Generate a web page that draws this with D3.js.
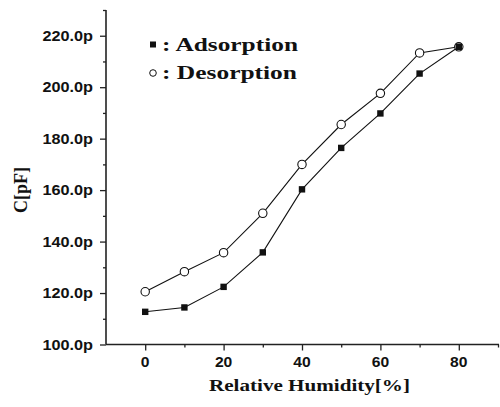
<!DOCTYPE html>
<html>
<head>
<meta charset="utf-8">
<script src="https://cdn.jsdelivr.net/npm/d3@7"></script>
<style>
  body { margin: 0; background: #fff; }
  svg { display: block; }
</style>
</head>
<body>
<svg id="chart" width="500" height="407"></svg>
<script>
'use strict'

// relative humidity [%]
const humidity = [0, 10, 20, 30, 40, 50, 60, 70, 80]
// capacitance [pF]
const adsorption = [112.7, 114.4, 122.4, 135.8, 160.3, 176.4, 189.8, 205.3, 215.7]
const desorption = [120.5, 128.3, 135.7, 151.0, 170.0, 185.5, 197.6, 213.3, 215.7]

const xTicks = [0, 20, 40, 60, 80]
const yTicks = [100, 120, 140, 160, 180, 200, 220]
const legendLabels = [': Adsorption', ': Desorption']

function chart(){
	let svg = d3.select('#chart')

	let x = d3.scaleLinear().domain([-10, 90]).range([106, 498])
	let y = d3.scaleLinear().domain([100, 230]).range([344.5, 10])

	const sans = '"Liberation Sans", Arial, sans-serif'
	const serif = '"Liberation Serif", "Times New Roman", serif'

	// axes
	let gx = svg.append('g').attr('transform', `translate(0,${y(100)})`)
	gx.call(d3.axisBottom(x).tickValues(d3.range(-10, 91, 10)).tickSize(3).tickFormat(''))
	gx.call(g => g.selectAll('.tick').filter(d => xTicks.includes(d)).select('line').attr('y2', 6))
	gx.selectAll('.tick').filter(d => d === -10).remove()
	gx.select('.domain').attr('d', `M${x(-10)},0H${x(90) + 1}`)

	let gy = svg.append('g').attr('transform', `translate(${x(-10)},0)`)
	gy.call(d3.axisLeft(y).tickValues(d3.range(100, 231, 10)).tickSize(3).tickFormat(''))
	gy.call(g => g.selectAll('.tick').filter(d => yTicks.includes(d)).select('line').attr('x2', -6))
	gy.select('.domain').attr('d', `M0,${y(230)}V${y(100)}`)

	svg.selectAll('.domain').attr('stroke', '#222').attr('stroke-width', 1.6)
	svg.selectAll('.tick line').attr('stroke', '#222').attr('stroke-width', 1.3)

	// tick labels (slightly stretched, like the scanned figure)
	svg.append('g').selectAll('text').data(xTicks).join('text')
		.attr('transform', d => `translate(${x(d)},367) scale(1.12,1)`)
		.attr('text-anchor', 'middle')
		.attr('font-family', sans).attr('font-weight', 'bold').attr('font-size', 14)
		.attr('fill', '#111')
		.text(d => d)

	svg.append('g').selectAll('text').data(yTicks).join('text')
		.attr('transform', d => `translate(93,${y(d) + 5}) scale(1.16,1)`)
		.attr('text-anchor', 'end')
		.attr('font-family', sans).attr('font-weight', 'bold').attr('font-size', 14)
		.attr('fill', '#111')
		.text(d => d.toFixed(1) + 'p')

	// axis titles
	svg.append('text')
		.attr('x', 209).attr('y', 391)
		.attr('textLength', 201).attr('lengthAdjust', 'spacingAndGlyphs')
		.attr('font-family', serif).attr('font-weight', 'bold').attr('font-size', 17)
		.attr('fill', '#111')
		.text('Relative Humidity[%]')

	svg.append('text')
		.attr('transform', 'translate(27,190) rotate(-90)')
		.attr('text-anchor', 'middle')
		.attr('font-family', serif).attr('font-weight', 'bold').attr('font-size', 18)
		.attr('fill', '#111')
		.text('C[pF]')

	// lines
	let line = d3.line().x((d, i) => x(humidity[i])).y(d => y(d))
	svg.append('path').datum(adsorption).attr('d', line)
		.attr('fill', 'none').attr('stroke', '#111').attr('stroke-width', 1.1)
	svg.append('path').datum(desorption).attr('d', line)
		.attr('fill', 'none').attr('stroke', '#111').attr('stroke-width', 1.1)

	// markers
	svg.append('g').selectAll('circle').data(desorption).join('circle')
		.attr('cx', (d, i) => x(humidity[i])).attr('cy', d => y(d)).attr('r', 4.2)
		.attr('fill', '#fff').attr('stroke', '#111').attr('stroke-width', 1.1)
	svg.append('g').selectAll('rect').data(adsorption).join('rect')
		.attr('x', (d, i) => x(humidity[i]) - 3.2).attr('y', d => y(d) - 3.2)
		.attr('width', 6.4).attr('height', 6.4)
		.attr('fill', '#111')

	// legend
	let leg = svg.append('g')
	leg.append('rect').attr('x', 150).attr('y', 41.5).attr('width', 6).attr('height', 6).attr('fill', '#111')
	leg.append('circle').attr('cx', 153).attr('cy', 73).attr('r', 3.3)
		.attr('fill', '#fff').attr('stroke', '#111').attr('stroke-width', 1)
	leg.selectAll('text').data(legendLabels).join('text')
		.attr('x', 162).attr('y', (d, i) => 51 + i * 28)
		.attr('textLength', (d, i) => i === 0 ? 136 : 135).attr('lengthAdjust', 'spacingAndGlyphs')
		.attr('font-family', serif).attr('font-weight', 'bold').attr('font-size', 18)
		.attr('fill', '#111')
		.text(d => d)
}

chart()
</script>
</body>
</html>
